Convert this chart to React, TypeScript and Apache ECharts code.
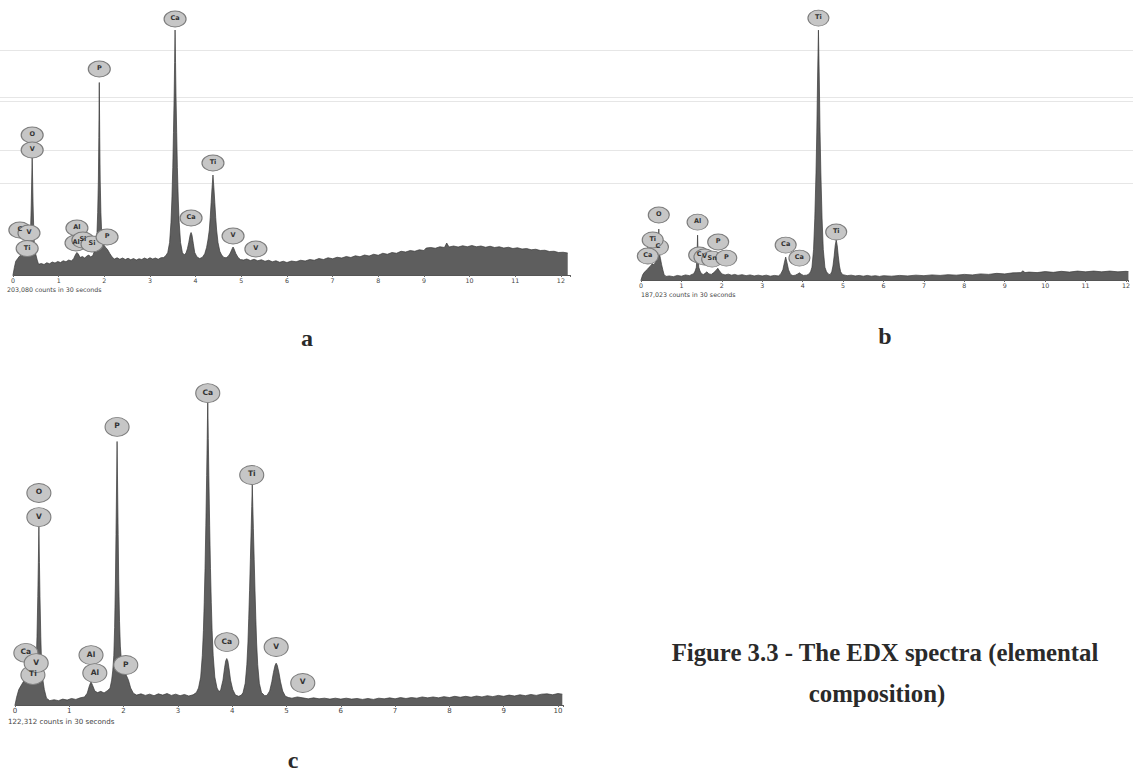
import React, { useEffect, useRef } from 'react';
import * as echarts from 'echarts';

// ---------- spectrum a : [keV, counts (relative)] ----------
const SPEC_A: [number, number][] = [
  [0.00, 0], [0.03, 3], [0.06, 5.5], [0.10, 6.5], [0.14, 7.5], [0.18, 8.2], [0.22, 7.6], [0.26, 8.4], [0.30, 7.8], [0.34, 8.6],
  [0.37, 11], [0.385, 18], [0.40, 28], [0.41, 38], [0.42, 47], [0.43, 38], [0.44, 28], [0.455, 18], [0.47, 11],
  [0.50, 8.2], [0.53, 6], [0.56, 4.3], [0.62, 4.6], [0.68, 4.2], [0.74, 4.9], [0.80, 4.5], [0.86, 5.2], [0.92, 4.8], [0.98, 5.4],
  [1.04, 5.0], [1.10, 5.7], [1.16, 5.3], [1.22, 6.0], [1.28, 5.6], [1.33, 6.6], [1.37, 8.2], [1.40, 9.0], [1.43, 8.4], [1.47, 7.0],
  [1.52, 7.4], [1.57, 6.8], [1.62, 7.6], [1.66, 8.0], [1.70, 7.2], [1.75, 7.8],
  [1.79, 10], [1.82, 13], [1.84, 17], [1.855, 25], [1.87, 38], [1.88, 55], [1.89, 77], [1.90, 55], [1.91, 38], [1.925, 25], [1.94, 18],
  [1.96, 14], [1.99, 12], [2.03, 11], [2.07, 10.2], [2.12, 8.6], [2.17, 7.2], [2.22, 6.4], [2.28, 6.9], [2.34, 6.3], [2.40, 6.8],
  [2.46, 6.2], [2.52, 6.7], [2.58, 6.1], [2.64, 6.6], [2.70, 6.0], [2.76, 6.5], [2.82, 6.2], [2.88, 6.8], [2.94, 6.3], [3.00, 6.9],
  [3.06, 6.4], [3.12, 6.8], [3.18, 6.3], [3.24, 6.9], [3.30, 7.0], [3.35, 7.8],
  [3.39, 9], [3.43, 13], [3.46, 21], [3.48, 30], [3.50, 43], [3.515, 57], [3.53, 72], [3.54, 85], [3.55, 98], [3.56, 85], [3.57, 72],
  [3.585, 57], [3.60, 43], [3.62, 30], [3.64, 21], [3.67, 13], [3.71, 9],
  [3.75, 8], [3.79, 8.8], [3.82, 10.5], [3.85, 13], [3.88, 16], [3.90, 17], [3.92, 16], [3.95, 12.5], [3.98, 9], [4.03, 7.2], [4.09, 6.6],
  [4.15, 7.1], [4.20, 8.5], [4.24, 11], [4.27, 14], [4.30, 18], [4.32, 23], [4.34, 29], [4.36, 35], [4.38, 40], [4.40, 35], [4.42, 29],
  [4.44, 23], [4.46, 18], [4.49, 13], [4.53, 9.5], [4.57, 8], [4.62, 7], [4.67, 6.9],
  [4.72, 7.6], [4.76, 8.8], [4.80, 10.5], [4.82, 11.2], [4.84, 10.5], [4.88, 8.6], [4.93, 7], [4.98, 6.2],
  [5.05, 6.0], [5.12, 6.4], [5.20, 5.8], [5.28, 6.3], [5.36, 5.7], [5.44, 6.1], [5.52, 5.5], [5.60, 5.9], [5.68, 5.3], [5.76, 5.7],
  [5.84, 5.1], [5.92, 5.5], [6.00, 5.0], [6.10, 5.6], [6.20, 5.3], [6.30, 5.9], [6.40, 5.6], [6.50, 6.2], [6.60, 5.9], [6.70, 6.6],
  [6.80, 6.2], [6.90, 6.9], [7.00, 6.5], [7.10, 7.1], [7.20, 6.8], [7.30, 7.4], [7.40, 7.0], [7.50, 7.7], [7.60, 7.3], [7.70, 8.0],
  [7.80, 7.6], [7.90, 8.3], [8.00, 7.9], [8.10, 8.7], [8.20, 8.3], [8.30, 9.0], [8.40, 8.7], [8.50, 9.5], [8.60, 9.2], [8.70, 9.8],
  [8.80, 9.5], [8.90, 10.1], [9.00, 9.8], [9.05, 10.8], [9.15, 11.0], [9.25, 10.7], [9.35, 11.3], [9.45, 11.0], [9.50, 12.8], [9.55, 11.2],
  [9.65, 11.6], [9.75, 11.2], [9.85, 11.7], [9.95, 11.3], [10.05, 11.8], [10.15, 11.3], [10.25, 11.6], [10.35, 11.1], [10.45, 11.5],
  [10.55, 11.0], [10.65, 11.3], [10.75, 10.8], [10.85, 11.1], [10.95, 10.6], [11.05, 10.9], [11.15, 10.4], [11.25, 10.6], [11.35, 10.1],
  [11.45, 10.3], [11.55, 9.8], [11.65, 9.9], [11.75, 9.4], [11.85, 9.5], [11.95, 9.0], [12.05, 9.1], [12.15, 8.8],
];

// ---------- spectrum b ----------
const SPEC_B: [number, number][] = [
  [0.00, 0], [0.04, 2], [0.08, 3], [0.12, 3.6], [0.16, 4.2], [0.20, 5.0], [0.24, 5.6], [0.28, 6.4], [0.32, 6.0], [0.36, 7.0],
  [0.40, 8.5], [0.42, 10], [0.43, 14], [0.44, 20], [0.45, 14], [0.46, 10], [0.48, 8.5], [0.51, 6], [0.54, 4], [0.57, 2.2],
  [0.62, 1.4], [0.70, 1.6], [0.80, 1.3], [0.90, 1.8], [1.00, 1.5], [1.10, 2.0], [1.20, 1.7], [1.26, 2.2],
  [1.30, 2.4], [1.34, 3.5], [1.37, 5], [1.385, 9], [1.40, 17.6], [1.415, 9], [1.43, 5], [1.46, 3.5], [1.50, 2.4],
  [1.55, 2.2], [1.60, 2.8], [1.63, 3.2], [1.68, 2.4], [1.74, 2.2], [1.80, 2.9], [1.86, 3.8], [1.90, 4.6], [1.94, 3.6], [2.00, 2.4],
  [2.08, 2.0], [2.16, 2.3], [2.24, 1.9], [2.32, 2.2], [2.40, 1.8], [2.50, 2.1], [2.60, 1.7], [2.70, 2.0], [2.80, 1.6], [2.90, 1.9],
  [3.00, 1.6], [3.10, 1.9], [3.20, 1.5], [3.30, 1.8], [3.40, 1.6], [3.46, 2.4], [3.51, 4.0], [3.55, 7.0], [3.58, 9.0], [3.61, 7.0],
  [3.65, 4.0], [3.70, 2.2], [3.76, 1.7], [3.82, 1.9], [3.88, 2.4], [3.92, 2.8], [3.96, 2.3], [4.02, 1.8], [4.10, 1.9],
  [4.16, 2.4], [4.20, 3.4], [4.23, 5], [4.27, 12], [4.30, 24], [4.33, 42], [4.35, 58], [4.37, 80], [4.39, 98], [4.41, 80],
  [4.43, 58], [4.45, 42], [4.48, 24], [4.51, 12], [4.55, 5], [4.59, 3.2], [4.64, 2.3],
  [4.68, 2.1], [4.72, 3.2], [4.75, 5.5], [4.78, 9.5], [4.805, 13.5], [4.83, 15.7], [4.855, 13.5], [4.88, 9.5], [4.91, 5.5], [4.94, 3.2],
  [4.99, 2.1], [5.05, 1.9], [5.10, 1.7], [5.20, 1.9], [5.30, 1.6], [5.40, 1.8], [5.50, 1.5], [5.60, 1.8], [5.70, 1.5], [5.80, 1.7],
  [5.90, 1.4], [6.00, 1.7], [6.20, 1.5], [6.40, 1.8], [6.60, 1.6], [6.80, 1.9], [7.00, 1.7], [7.20, 2.0], [7.40, 1.8], [7.60, 2.1],
  [7.80, 1.9], [8.00, 2.2], [8.20, 2.0], [8.40, 2.4], [8.60, 2.2], [8.80, 2.6], [9.00, 2.4], [9.20, 2.8], [9.40, 2.9], [9.45, 3.6],
  [9.50, 2.9], [9.60, 3.1], [9.80, 2.9], [10.00, 3.3], [10.20, 3.0], [10.40, 3.4], [10.60, 3.1], [10.80, 3.5], [11.00, 3.2],
  [11.20, 3.5], [11.40, 3.2], [11.60, 3.5], [11.80, 3.2], [12.00, 3.4], [12.06, 3.3],
];

// ---------- spectrum c ----------
const SPEC_C: [number, number][] = [
  [0.00, 0], [0.03, 2.5], [0.07, 5], [0.12, 6.5], [0.17, 8.0], [0.21, 8.8], [0.25, 8.2], [0.29, 8.9], [0.33, 8.4], [0.37, 9],
  [0.39, 13], [0.405, 22], [0.42, 35], [0.43, 46], [0.44, 58], [0.45, 46], [0.46, 35], [0.475, 22], [0.49, 13], [0.51, 8.5],
  [0.54, 5], [0.58, 2.2], [0.64, 1.4], [0.72, 1.7], [0.80, 1.4], [0.88, 1.9], [0.96, 1.6], [1.04, 2.1], [1.12, 1.8], [1.20, 2.3],
  [1.28, 2.6], [1.33, 3.8], [1.37, 6.2], [1.40, 7.5], [1.43, 6.3], [1.47, 4.5], [1.52, 4.0], [1.58, 4.4], [1.64, 3.9], [1.70, 4.6],
  [1.75, 5.4], [1.78, 8], [1.80, 11], [1.82, 16], [1.835, 25], [1.85, 40], [1.86, 55], [1.87, 70], [1.88, 85], [1.89, 70],
  [1.90, 55], [1.91, 40], [1.925, 27], [1.94, 19], [1.96, 14], [1.99, 11], [2.02, 10], [2.05, 9.6], [2.09, 8], [2.13, 5.5],
  [2.18, 3.8], [2.24, 3.2], [2.32, 3.6], [2.40, 3.1], [2.48, 3.5], [2.56, 3.0], [2.64, 3.6], [2.72, 3.2], [2.80, 3.7], [2.88, 3.1],
  [2.96, 3.5], [3.04, 3.0], [3.12, 3.4], [3.20, 2.9], [3.28, 3.3],
  [3.34, 4], [3.38, 5.5], [3.42, 9], [3.45, 16], [3.47, 24], [3.485, 33], [3.50, 44], [3.515, 58], [3.53, 74], [3.54, 86], [3.55, 99],
  [3.56, 86], [3.57, 74], [3.585, 58], [3.60, 44], [3.615, 33], [3.63, 24], [3.65, 16], [3.68, 9], [3.72, 5.5], [3.76, 4.2],
  [3.79, 5], [3.83, 8], [3.86, 12], [3.88, 14.2], [3.90, 15], [3.92, 14.2], [3.94, 12], [3.97, 8], [4.01, 5], [4.06, 3.2], [4.12, 2.8],
  [4.17, 3.2], [4.20, 4], [4.24, 7], [4.27, 13], [4.29, 20], [4.305, 28], [4.32, 37], [4.335, 47], [4.35, 57], [4.36, 64], [4.37, 71],
  [4.38, 64], [4.39, 57], [4.405, 47], [4.42, 37], [4.435, 28], [4.45, 20], [4.47, 13], [4.50, 7], [4.54, 4], [4.60, 3],
  [4.64, 3.1], [4.69, 4.5], [4.73, 7.5], [4.76, 10.5], [4.79, 12.8], [4.81, 13.5], [4.83, 12.8], [4.86, 10.5], [4.89, 7.5], [4.93, 4.5],
  [4.98, 2.8], [5.04, 2.4], [5.10, 2.2], [5.20, 2.6], [5.30, 2.3], [5.40, 2.0], [5.50, 2.3], [5.60, 2.0], [5.70, 2.2], [5.80, 1.9],
  [5.90, 2.2], [6.00, 1.9], [6.10, 2.2], [6.20, 1.9], [6.30, 2.1], [6.40, 1.8], [6.50, 2.1], [6.60, 1.8], [6.70, 2.2], [6.80, 2.0],
  [6.90, 2.3], [7.00, 2.0], [7.10, 2.4], [7.20, 2.1], [7.30, 2.4], [7.40, 2.2], [7.50, 2.6], [7.60, 2.3], [7.70, 2.6], [7.80, 2.3],
  [7.90, 2.7], [8.00, 2.4], [8.10, 2.8], [8.20, 2.5], [8.30, 2.8], [8.40, 2.5], [8.50, 2.9], [8.60, 2.6], [8.70, 3.0], [8.80, 2.7],
  [8.90, 3.1], [9.00, 2.8], [9.10, 3.2], [9.20, 2.9], [9.30, 3.3], [9.40, 3.0], [9.50, 3.4], [9.60, 3.1], [9.70, 3.5], [9.80, 3.6],
  [9.90, 3.3], [10.00, 3.7], [10.08, 3.5],
];

// ---------- element markers: [keV, height, element] ----------
const LABELS_A: [number, number, string][] = [
  [0.15, 18.0, 'C'], [0.35, 16.8, 'V'], [0.31, 10.6, 'Ti'],
  [0.42, 56, 'O'], [0.42, 50, 'V'],
  [1.40, 18.8, 'Al'], [1.38, 12.8, 'Al'], [1.53, 14, 'Si'], [1.73, 12.4, 'Si'], [2.06, 15.2, 'P'],
  [1.89, 82.4, 'P'], [3.55, 102.4, 'Ca'], [3.90, 22.8, 'Ca'], [4.38, 44.8, 'Ti'], [4.82, 15.6, 'V'], [5.32, 10.4, 'V'],
];
const LABELS_B: [number, number, string][] = [
  [0.44, 25.5, 'O'], [0.42, 12.9, 'C'], [0.29, 15.7, 'Ti'], [0.17, 9.4, 'Ca'],
  [1.40, 22.7, 'Al'], [1.44, 9.8, 'C'], [1.57, 9.0, 'V'], [1.91, 14.9, 'P'], [1.76, 8.2, 'Sn'], [2.11, 8.6, 'P'],
  [3.58, 13.7, 'Ca'], [3.92, 8.6, 'Ca'], [4.39, 102.7, 'Ti'], [4.83, 18.8, 'Ti'],
];
const LABELS_C: [number, number, string][] = [
  [0.20, 16.8, 'Ca'], [0.33, 9.7, 'Ti'], [0.39, 13.5, 'V'],
  [0.44, 68.4, 'O'], [0.44, 60.6, 'V'],
  [1.40, 16.1, 'Al'], [1.47, 10.3, 'Al'], [2.04, 12.9, 'P'],
  [1.88, 89.7, 'P'], [3.55, 100.6, 'Ca'], [3.90, 20.3, 'Ca'], [4.36, 74.2, 'Ti'], [4.81, 18.7, 'V'], [5.30, 7.1, 'V'],
];

const COUNTS = ['203,080 counts in 30 seconds', '187,023 counts in 30 seconds', '122,312 counts in 30 seconds'];
const PANEL_LETTERS = ['a', 'b', 'c'];
const CAPTION = ['Figure 3.3 - The EDX spectra (elemental', 'composition)'];
const X_MAX = [12.2, 12.06, 10.1];
const SCAN_LINES_Y = [50, 97, 101, 150, 183];

const ELLIPSE = 'path://M0,50A50,50 0 1,0 100,50A50,50 0 1,0 0,50Z';

export default function App() {
  const ref = useRef<HTMLDivElement>(null);
  useEffect(() => {
    if (!ref.current) return;
    const chart = echarts.init(ref.current, undefined, { renderer: 'svg' });

    const grids = [
      { left: 13, top: 25, width: 557, height: 250 },
      { left: 641, top: 25, width: 492, height: 255 },
      { left: 15, top: 395, width: 548.4, height: 310 },
    ];
    const tickFont = [6.3, 6.3, 7];

    const xAxis = grids.map((_, i) => ({
      type: 'value',
      gridIndex: i,
      min: 0,
      max: X_MAX[i],
      interval: 1,
      axisLine: { show: true, lineStyle: { color: '#555', width: 1 } },
      axisTick: { show: true, length: 2, lineStyle: { color: '#666' } },
      splitLine: { show: false },
      axisLabel: {
        margin: 2,
        fontSize: tickFont[i],
        fontFamily: 'DejaVu Sans',
        color: '#444',
        formatter: (v: number) => (Math.abs(v - Math.round(v)) < 1e-6 ? String(Math.round(v)) : ''),
      },
    }));
    const yAxis = grids.map((_, i) => ({
      type: 'value', gridIndex: i, min: 0, max: 100, show: false,
    }));

    const specs = [SPEC_A, SPEC_B, SPEC_C];
    const labels = [LABELS_A, LABELS_B, LABELS_C];
    const markerSize = [[22, 16], [21, 16], [24, 19]];

    const series: any[] = [];
    specs.forEach((d, i) => {
      series.push({
        type: 'line',
        xAxisIndex: i,
        yAxisIndex: i,
        data: d,
        symbol: 'none',
        showSymbol: false,
        lineStyle: { color: '#3a3a3a', width: 0.7 },
        areaStyle: { color: '#5e5e5e', opacity: 1 },
        z: 3,
      });
    });
    labels.forEach((l, i) => {
      series.push({
        type: 'scatter',
        xAxisIndex: i,
        yAxisIndex: i,
        clip: false,
        symbol: ELLIPSE,
        symbolSize: markerSize[i],
        z: 5,
        itemStyle: { color: '#c6c6c6', borderColor: '#7c7c7c', borderWidth: 1, opacity: 1 },
        label: {
          show: true,
          position: 'inside',
          formatter: (p: any) => p.name,
          fontSize: i === 2 ? 7.5 : 6.5,
          fontFamily: 'DejaVu Sans',
          fontWeight: 'bold',
          color: '#333',
          offset: [0, -1],
        },
        data: l.map(([x, y, el]) => ({ name: el, value: [x, y] })),
      });
    });

    const textEl = (text: string, x: number, y: number, size: number, opts: any = {}) => ({
      type: 'text',
      x,
      y,
      silent: true,
      z: 10,
      style: {
        text,
        fill: opts.fill || '#444',
        fontSize: size,
        fontFamily: opts.family || 'DejaVu Sans',
        fontWeight: opts.weight || 'normal',
        textAlign: opts.align || 'left',
        align: opts.align || 'left',
        textVerticalAlign: 'middle',
        verticalAlign: 'middle',
      },
    });

    const serif = { family: 'Liberation Serif', weight: 'bold', align: 'center', fill: '#2a2a2a' };
    const graphic: any[] = [
      ...SCAN_LINES_Y.map((y) => ({
        type: 'line',
        silent: true,
        z: 0,
        shape: { x1: 0, y1: y + 0.5, x2: 1133, y2: y + 0.5 },
        style: { stroke: '#e6e6e6', lineWidth: 1 },
      })),
      textEl(COUNTS[0], 7, 289, 6.3),
      textEl(COUNTS[1], 641, 294, 6.3),
      textEl(COUNTS[2], 8, 721, 7.1),
      textEl(PANEL_LETTERS[0], 307, 338, 24, serif),
      textEl(PANEL_LETTERS[1], 885, 336, 24, serif),
      textEl(PANEL_LETTERS[2], 293, 760, 24, serif),
      textEl(CAPTION[0], 885, 652, 24.8, serif),
      textEl(CAPTION[1], 877, 693, 24.8, serif),
    ];

    chart.setOption({
      animation: false,
      backgroundColor: '#ffffff',
      grid: grids.map((g) => ({ ...g, containLabel: false })),
      xAxis,
      yAxis,
      series,
      graphic,
    });
    return () => chart.dispose();
  }, []);

  return (
    <div
      ref={ref}
      style={{ position: 'fixed', left: 0, top: 0, width: 1133, height: 775, background: '#fff' }}
    />
  );
}
